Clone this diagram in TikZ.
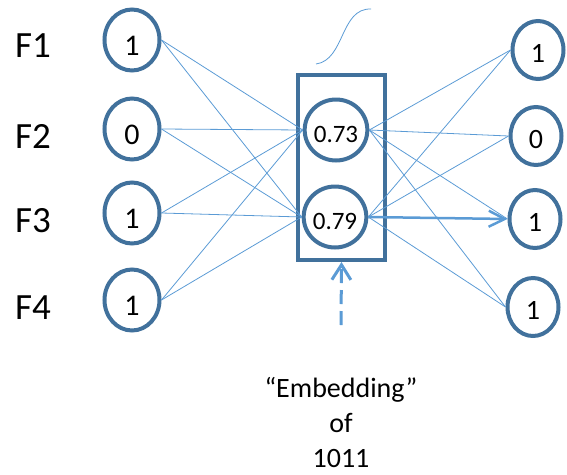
\documentclass[tikz,border=0pt]{standalone}
\usepackage{fontspec}
\setmainfont{Carlito}
\usepackage{tikz}
\usetikzlibrary{positioning,arrows.meta,shapes.geometric}
\definecolor{ringblue}{RGB}{65,113,156}
\definecolor{wireblue}{RGB}{91,155,213}

\begin{document}
\begin{tikzpicture}[x=1pt,y=-1pt,
                    every node/.style={font=\fontsize{28}{35}\selectfont},
                    unit/.style={draw=ringblue,line width=4pt,ellipse,inner sep=0pt,
                                 minimum width=55pt, minimum height=61pt,
                                 font=\fontsize{30}{35}\selectfont,
                                 text height=31pt, text depth=0pt},
                    outunit/.style={unit,minimum width=51pt,minimum height=58pt,
                                    font=\fontsize{28}{33}\selectfont,
                                    text height=24pt},
                    hid/.style={unit,minimum width=51pt,minimum height=61pt,
                                font=\fontsize{25}{28}\selectfont,
                                text height=25pt},
                    feat/.style={font=\fontsize{37}{44}\selectfont},
                    wire/.style={wireblue,line width=0.8pt},
                    layerbox/.style={draw=ringblue,line width=4pt,
                                     minimum width=87pt, minimum height=185pt}]
\useasboundingbox (0,0) rectangle (567,474);
% input layer
\node[feat] (F1) at (33,46)  {F1};
\node[feat] (F2) at (33,136) {F2};
\node[feat] (F3) at (33,221) {F3};
\node[feat] (F4) at (33,308) {F4};
\node[unit] (i1) at (132,40)  {1};
\node[unit] (i2) at (132,129) {0};
\node[unit] (i3) at (132,213) {1};
\node[unit] (i4) at (132,300) {1};
% hidden layer
\node[layerbox] (box) at (341.5,167.5) {};
\node[hid] (h1) at (336,130) {0.73};
\node[hid] (h2) at (335,217) {0.79};
% output layer
\node[outunit] (o1) at (538,50)  {1};
\node[outunit] (o2) at (536,136) {0};
\node[outunit] (o3) at (535,219) {1};
\node[outunit] (o4) at (533,307) {1};
% wires
\draw[wire] (i1.east)--(h1.west); \draw[wire] (i1.east)--(h2.west);
\draw[wire] (i2.east)--(h1.west); \draw[wire] (i2.east)--(h2.west);
\draw[wire] (i3.east)--(h1.west); \draw[wire] (i3.east)--(h2.west);
\draw[wire] (i4.east)--(h1.west); \draw[wire] (i4.east)--(h2.west);
\draw[wire] (h1.east)--(o1.west); \draw[wire] (h1.east)--(o2.west);
\draw[wire] (h1.east)--(o3.west); \draw[wire] (h1.east)--(o4.west);
\draw[wire] (h2.east)--(o1.west); \draw[wire] (h2.east)--(o2.west);
\draw[wire] (h2.east)--(o4.west);
\draw[wire,line width=2.5pt,-{Straight Barb[length=16pt,width=16pt]}] (h2.east)--(o3.west);
% squiggle above the box
\coordinate (sq1) at (316,64);
\coordinate (sq2) at (371,9);
\draw[wire] (sq1) .. controls (345,60) and (340,8) .. (sq2);
% embedding pointer
\coordinate (tail) at (341,325);
\draw[wireblue,line width=3pt,dash pattern=on 14pt off 7pt,
      -{Straight Barb[length=15pt,width=19pt]}] (tail)--(box.south);
\node[align=center,inner sep=0pt,anchor=north] (emb) at (341,377)
     {``Embedding''\\of\\1011};
\end{tikzpicture}
\end{document}
